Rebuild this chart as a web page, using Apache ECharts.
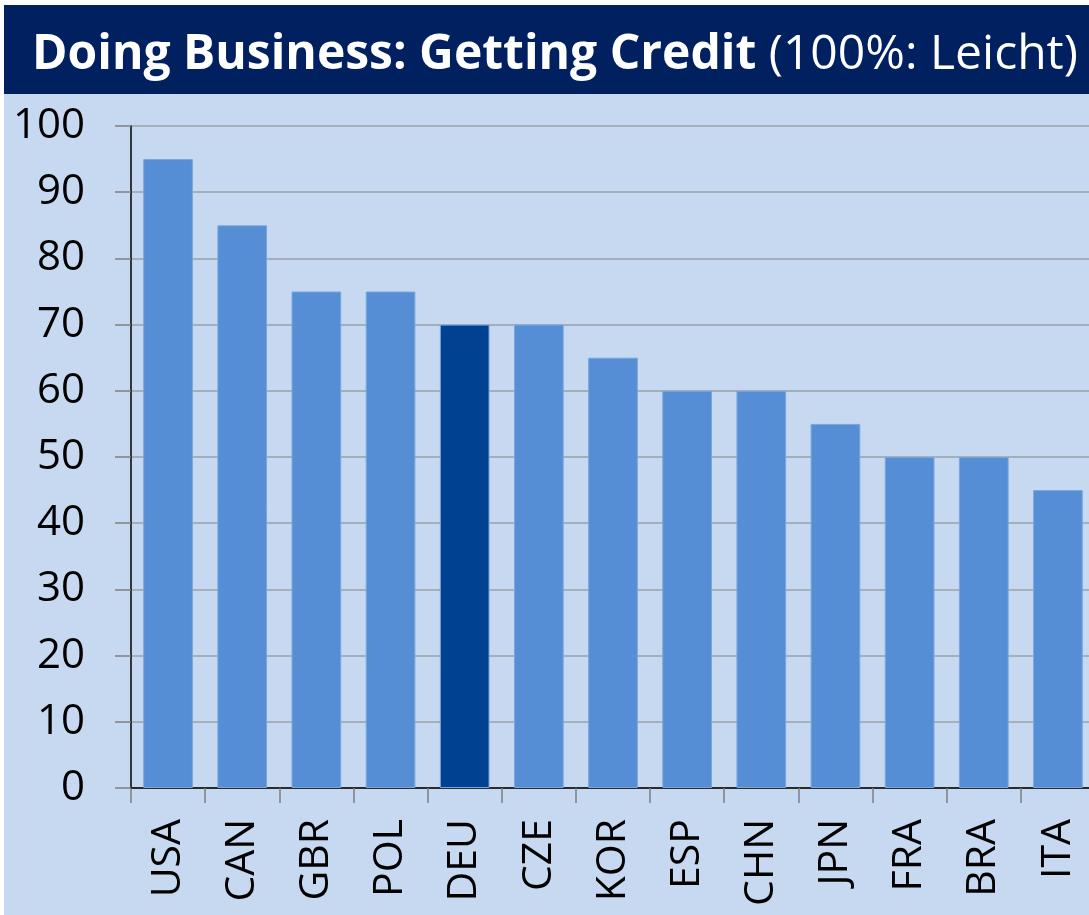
<!DOCTYPE html>
<html>
<head>
<meta charset="utf-8">
<script src="https://cdn.jsdelivr.net/npm/echarts@6/dist/echarts.min.js"></script>
<style>
  html, body { margin: 0; padding: 0; background: #fff; }
  #main { position: absolute; left: 4px; top: 5px; width: 1085px; height: 910px; }
</style>
</head>
<body>
<div id="main"></div>
<script>
var myChart = echarts.init(document.getElementById('main'));

// Länder und Werte (Doing Business: Getting Credit)
var countries = ['USA', 'CAN', 'GBR', 'POL', 'DEU', 'CZE', 'KOR', 'ESP', 'CHN', 'JPN', 'FRA', 'BRA', 'ITA'];
var scores = [95, 85, 75, 75, 70, 70, 65, 60, 60, 55, 50, 50, 45];
var highlight = 'DEU';
var yTicks = [0, 10, 20, 30, 40, 50, 60, 70, 80, 90, 100];

var font = 'Open Sans';

var option = {
    backgroundColor: '#c6d9f0',
    animation: false,
    graphic: [{
        type: 'rect',
        shape: { x: 0, y: 0, width: 1085, height: 89 },
        style: { fill: '#002060' },
        z: 0
    }],
    title: {
        text: '{b|Doing Business: Getting Credit}{n| (100%: Leicht)}',
        left: 28,
        top: 20,
        padding: 0,
        textStyle: {
            rich: {
                b: { fontFamily: font, fontSize: 48, fontWeight: 'bold', color: '#fff', lineHeight: 60 },
                n: { fontFamily: font, fontSize: 48, fontWeight: 'normal', color: '#fff', lineHeight: 60 }
            }
        }
    },
    grid: {
        left: 127,
        width: 964,
        top: 121,
        bottom: 127,
        outerBoundsMode: 'none'
    },
    xAxis: {
        type: 'category',
        data: countries,
        axisLine: { lineStyle: { color: '#000', width: 1.5 } },
        axisTick: { show: true, length: 15, lineStyle: { color: '#7f7f7f', width: 1.5 } },
        axisLabel: {
            interval: 0,
            rotate: 90,
            margin: 31,
            color: '#000',
            fontFamily: font,
            fontSize: 41
        }
    },
    yAxis: {
        type: 'value',
        min: yTicks[0],
        max: yTicks[yTicks.length - 1],
        interval: 10,
        axisLine: { show: true, lineStyle: { color: '#000', width: 1.5 } },
        axisTick: { show: true, length: 16, lineStyle: { color: '#7f7f7f', width: 1.5 } },
        axisLabel: {
            margin: 46,
            color: '#000',
            fontFamily: font,
            fontSize: 42
        },
        splitLine: { lineStyle: { color: '#98a0ab', width: 1.5 } }
    },
    series: [{
        type: 'bar',
        barCategoryGap: '33%',
        data: scores.map(function (v, i) {
            return {
                value: v,
                itemStyle: { color: countries[i] === highlight ? '#004191' : '#558ed5' }
            };
        }),
        itemStyle: { borderColor: '#7aa6dc', borderWidth: 1 }
    }]
};

myChart.setOption(option);
</script>
</body>
</html>
